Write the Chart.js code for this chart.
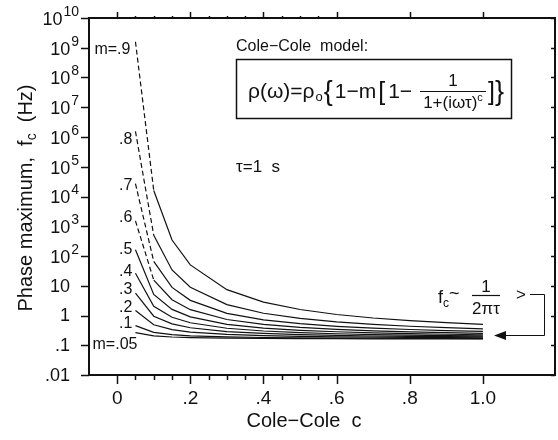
<!DOCTYPE html>
<html>
<head>
<meta charset="utf-8">
<script src="https://cdn.jsdelivr.net/npm/chart.js@4/dist/chart.umd.min.js"></script>
<style>
  body { margin: 0; background: #fff; }
  #wrap { width: 558px; height: 440px; }
</style>
</head>
<body>
<div id="wrap"><canvas id="chart" width="558" height="440"></canvas></div>
<script>
// Cole-Cole exponent c along the x axis
const coleC = [0.05, 0.1, 0.15, 0.2, 0.3, 0.4, 0.5, 0.6, 0.7, 0.8, 0.9, 1.0];

// frequency of the phase maximum (Hz), one list per chargeability m
const fcM05 = [0.266, 0.206, 0.189, 0.181, 0.173, 0.170, 0.168, 0.166, 0.165, 0.164, 0.164, 0.163];
const fcM10 = [0.457, 0.270, 0.226, 0.207, 0.190, 0.182, 0.177, 0.174, 0.172, 0.170, 0.169, 0.168];
const fcM20 = [1.48, 0.486, 0.335, 0.278, 0.231, 0.210, 0.199, 0.192, 0.187, 0.183, 0.180, 0.178];
const fcM30 = [5.63, 0.947, 0.523, 0.388, 0.288, 0.249, 0.227, 0.214, 0.205, 0.199, 0.194, 0.190];
const fcM40 = [26.3, 2.05, 0.874, 0.571, 0.373, 0.301, 0.265, 0.244, 0.229, 0.219, 0.211, 0.206];
const fcM50 = [163, 5.09, 1.60, 0.900, 0.505, 0.379, 0.318, 0.284, 0.261, 0.245, 0.234, 0.225];
const fcM60 = [1520, 15.5, 3.38, 1.57, 0.733, 0.500, 0.398, 0.342, 0.306, 0.282, 0.265, 0.252];
const fcM70 = [2.70e4, 65.5, 8.81, 3.23, 1.18, 0.717, 0.531, 0.434, 0.376, 0.338, 0.311, 0.291];
const fcM80 = [1.55e6, 497, 34.0, 8.90, 2.33, 1.19, 0.796, 0.609, 0.502, 0.435, 0.389, 0.356];
const fcM90 = [1.59e9, 1.59e4, 343, 50.3, 7.39, 2.83, 1.59, 1.08, 0.824, 0.671, 0.572, 0.503];

const curveLabels = ["m=.05", ".1", ".2", ".3", ".4", ".5", ".6", ".7", ".8", "m=.9"];
const curveValues = [fcM05, fcM10, fcM20, fcM30, fcM40, fcM50, fcM60, fcM70, fcM80, fcM90];

// axis ticks
const xMajorTicks = [0, 0.2, 0.4, 0.6, 0.8, 1.0];
const xMajorLabels = ["0", ".2", ".4", ".6", ".8", "1.0"];
const xMinorTicks = [0.05, 0.1, 0.15, 0.25, 0.3, 0.35, 0.45, 0.5, 0.55];
const yTickValues = [1e10, 1e9, 1e8, 1e7, 1e6, 1e5, 1e4, 1e3, 1e2, 10, 1, 0.1, 0.01];
const yTickLabels = ["10^10", "10^9", "10^8", "10^7", "10^6", "10^5", "10^4", "10^3", "10^2", "10", "1", ".1", ".01"];

const SANS = '"Liberation Sans", Arial, Helvetica, sans-serif';
const INK = "#111";

// where each curve name sits relative to its first point
const labelNudge = [
  { dx: 2, dy: 12 }, { dx: -3, dy: -2 }, { dx: -3, dy: -3 }, { dx: -3, dy: -4 }, { dx: -3, dy: -2 },
  { dx: -3, dy: 0 }, { dx: -3, dy: -3 }, { dx: -3, dy: 2 }, { dx: -3, dy: 8 }, { dx: -5, dy: 8 },
];

const datasets = curveValues.map((vals, i) => ({
  label: curveLabels[i],
  data: coleC.map((c, j) => ({ x: c, y: vals[j] })),
  borderColor: INK,
  borderWidth: 1.2,
  pointRadius: 0,
  tension: 0,
  fill: false,
  // steep start of the high-m curves is dashed
  segment: {
    borderDash: (ctx) => (i >= 6 && ctx.p0DataIndex === 0 ? [5, 3] : undefined),
  },
}));

function drawRuns(ctx, x, y, runs) {
  for (const r of runs) {
    ctx.font = r.font + " " + SANS;
    ctx.fillText(r.t, x, y + (r.dy || 0));
    x += ctx.measureText(r.t).width + (r.gap || 0);
  }
  return x;
}

function textWidth(ctx, t, font) {
  ctx.font = font + " " + SANS;
  return ctx.measureText(t).width;
}

const decorations = {
  id: "decorations",
  afterDraw(chart) {
    const { ctx, chartArea: a, scales } = chart;
    const xs = scales.x, ys = scales.y;
    ctx.save();
    ctx.strokeStyle = INK;
    ctx.fillStyle = INK;

    // frame
    ctx.lineWidth = 2;
    ctx.strokeRect(a.left, a.top, a.right - a.left, a.bottom - a.top);

    // x ticks, bottom (outward) and top (outward)
    ctx.lineWidth = 1.5;
    const tickX = (v, len) => {
      const px = Math.round(xs.getPixelForValue(v)) + 0.5;
      ctx.beginPath();
      ctx.moveTo(px, a.bottom); ctx.lineTo(px, a.bottom + len);
      ctx.moveTo(px, a.top); ctx.lineTo(px, a.top - (len - 3));
      ctx.stroke();
    };
    xMajorTicks.forEach((v) => tickX(v, 9));
    xMinorTicks.forEach((v) => tickX(v, 5));

    // y ticks, left outward, right inward
    yTickValues.forEach((v) => {
      const py = Math.round(ys.getPixelForValue(v)) + 0.5;
      ctx.beginPath();
      ctx.moveTo(a.left - 8, py); ctx.lineTo(a.left, py);
      ctx.moveTo(a.right - 4, py); ctx.lineTo(a.right, py);
      ctx.stroke();
    });

    // x tick labels
    ctx.font = "19px " + SANS;
    ctx.textAlign = "center";
    ctx.textBaseline = "middle";
    xMajorTicks.forEach((v, i) => {
      ctx.fillText(xMajorLabels[i], xs.getPixelForValue(v), a.bottom + 24);
    });

    // y tick labels with superscript exponents
    yTickValues.forEach((v, i) => {
      const py = ys.getPixelForValue(v);
      const lab = yTickLabels[i];
      if (lab.includes("^")) {
        const [b, s] = lab.split("^");
        const wb = textWidth(ctx, b, "18px");
        const ws = textWidth(ctx, s, "14px");
        const left = a.left - 11 - wb - ws;
        ctx.textAlign = "left";
        ctx.font = "18px " + SANS;
        ctx.fillText(b, left, py + 2);
        ctx.font = "14px " + SANS;
        ctx.fillText(s, left + wb + 1, py - 6);
      } else {
        ctx.textAlign = "right";
        ctx.font = "18px " + SANS;
        ctx.fillText(lab, a.left - 19, py + 1);
      }
    });

    // axis titles
    ctx.textAlign = "center";
    ctx.font = "20px " + SANS;
    ctx.fillText("Cole−Cole  c", 304, 421);

    ctx.save();
    ctx.translate(25, 198);
    ctx.rotate(-Math.PI / 2);
    ctx.textAlign = "left";
    ctx.textBaseline = "alphabetic";
    const yTitle = [
      { t: "Phase maximum,  f", font: "20px" },
      { t: "c", font: "14px", dy: 4 },
      { t: "  (Hz)", font: "20px" },
    ];
    let tw = 0;
    yTitle.forEach((r) => (tw += textWidth(ctx, r.t, r.font)));
    drawRuns(ctx, -tw / 2, 7, yTitle);
    ctx.restore();

    // curve names at the start of each curve
    ctx.font = "16px " + SANS;
    ctx.textAlign = "right";
    ctx.textBaseline = "middle";
    datasets.forEach((ds, i) => {
      const p = ds.data[0];
      const px = xs.getPixelForValue(p.x) + labelNudge[i].dx;
      const py = ys.getPixelForValue(p.y) + labelNudge[i].dy;
      ctx.fillText(curveLabels[i], px, py);
    });

    // model box
    ctx.textAlign = "left";
    ctx.textBaseline = "middle";
    ctx.font = "16px " + SANS;
    ctx.fillText("Cole−Cole  model:", 236, 47);
    ctx.lineWidth = 1.5;
    ctx.strokeRect(236.5, 59.5, 275, 59);

    ctx.textBaseline = "alphabetic";
    let fx = drawRuns(ctx, 248, 98, [
      { t: "ρ(ω)=ρ", font: "21px", gap: 1 },
      { t: "o", font: "13px", dy: 3, gap: 1 },
      { t: "{", font: "27px", dy: 2, gap: 2 },
      { t: "1−m", font: "21px", gap: 2 },
      { t: "[", font: "25px", dy: 2, gap: 3 },
      { t: "1−", font: "21px" },
    ]);
    const fracL = Math.max(fx + 5, 420), fracR = 486;
    const fracC = (fracL + fracR) / 2;
    ctx.lineWidth = 1.2;
    ctx.beginPath();
    ctx.moveTo(fracL, 91.5); ctx.lineTo(fracR, 91.5);
    ctx.stroke();
    ctx.textAlign = "center";
    ctx.font = "17px " + SANS;
    ctx.fillText("1", fracC, 86);
    ctx.textAlign = "left";
    const denom = [
      { t: "1+(iωτ)", font: "17px" },
      { t: "c", font: "11px", dy: -7 },
    ];
    let dw = 0;
    denom.forEach((r) => (dw += textWidth(ctx, r.t, r.font)));
    drawRuns(ctx, fracC - dw / 2, 108, denom);
    drawRuns(ctx, fracR + 2, 98, [
      { t: "]", font: "25px", dy: 2 },
      { t: "}", font: "27px", dy: 2 },
    ]);

    // time constant
    ctx.textBaseline = "middle";
    ctx.font = "17px " + SANS;
    ctx.fillText("τ=1  s", 236, 167);

    // f_c ~ 1/(2 pi tau) annotation with return arrow
    ctx.textBaseline = "alphabetic";
    drawRuns(ctx, 438, 303, [
      { t: "f", font: "18px" },
      { t: "c", font: "12px", dy: 4 },
      { t: "~", font: "18px", dy: -4 },
    ]);
    ctx.lineWidth = 1.2;
    ctx.beginPath();
    ctx.moveTo(472, 295.5); ctx.lineTo(500, 295.5);
    ctx.stroke();
    ctx.textAlign = "center";
    ctx.font = "17px " + SANS;
    ctx.fillText("1", 486, 292);
    ctx.fillText("2πτ", 486, 314);
    ctx.fillText(">", 521, 300);

    ctx.lineWidth = 1;
    ctx.beginPath();
    ctx.moveTo(530, 294.5); ctx.lineTo(544.5, 294.5);
    ctx.lineTo(544.5, 335.5); ctx.lineTo(503, 335.5);
    ctx.stroke();
    ctx.beginPath();
    ctx.moveTo(494, 335.5); ctx.lineTo(506, 331); ctx.lineTo(506, 340);
    ctx.closePath();
    ctx.fill();

    ctx.restore();
  },
};

new Chart(document.getElementById("chart"), {
  type: "line",
  data: { datasets },
  options: {
    responsive: false,
    animation: false,
    devicePixelRatio: 1,
    layout: { padding: { left: 89, top: 18, right: 3, bottom: 65 } },
    plugins: { legend: { display: false }, tooltip: { enabled: false } },
    scales: {
      x: { type: "linear", min: -0.077, max: 1.197, display: false },
      y: { type: "logarithmic", min: 0.01, max: 1e10, display: false },
    },
  },
  plugins: [decorations],
});
</script>
</body>
</html>
